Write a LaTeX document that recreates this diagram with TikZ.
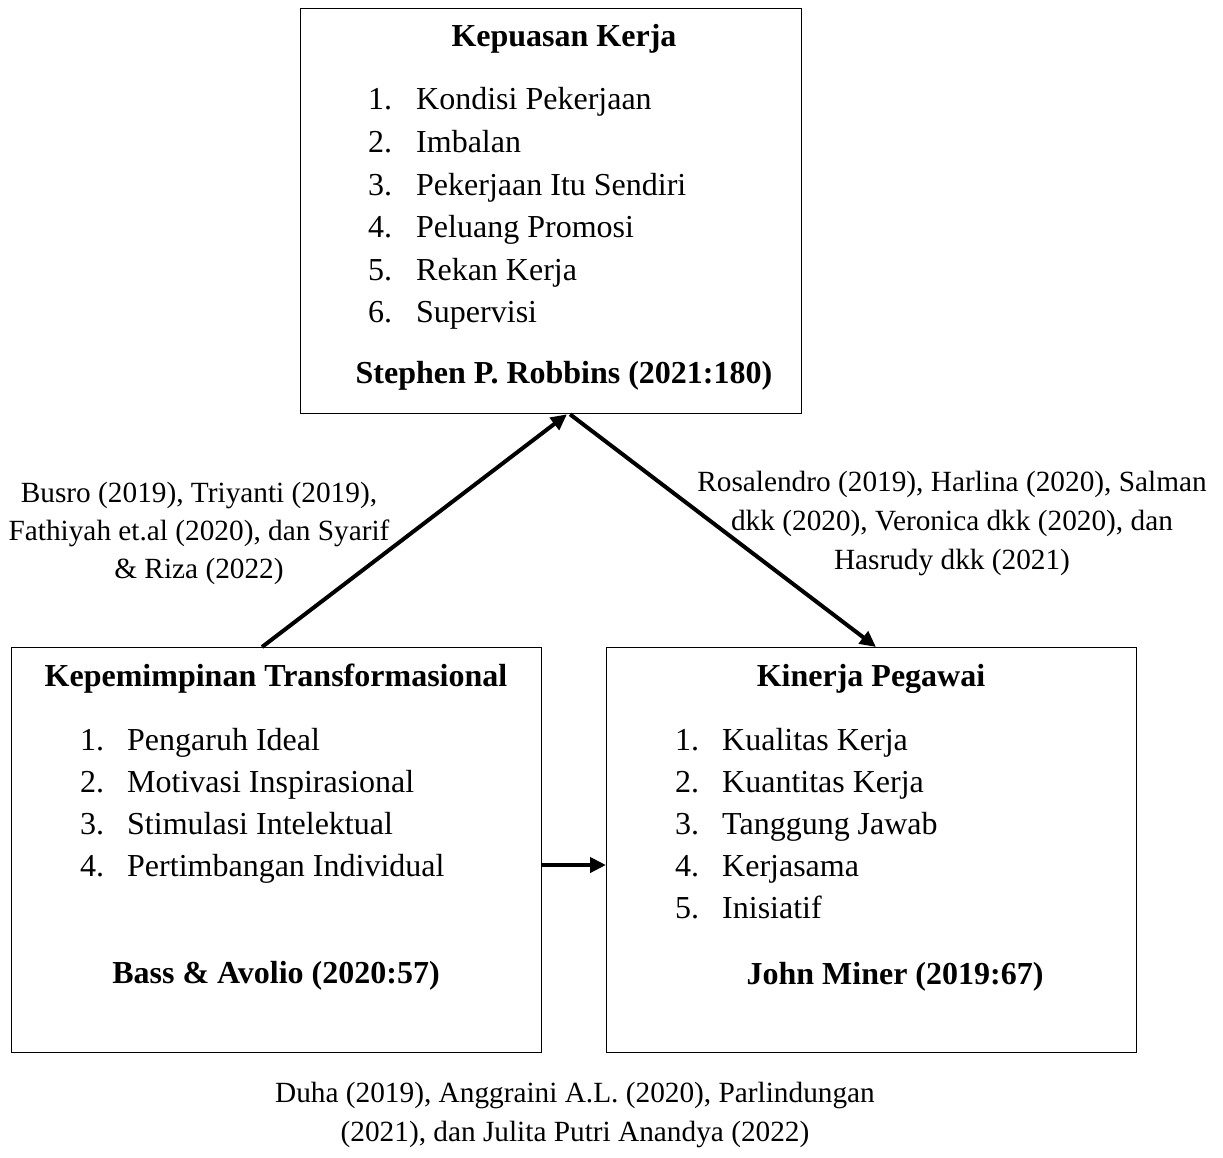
\documentclass[tikz,border=0pt]{standalone}
\usepackage{fontspec}
\setmainfont{Liberation Serif}
\usetikzlibrary{arrows.meta}
\begin{document}
\begin{tikzpicture}[x=1pt,y=-1pt,
  box/.style={draw=black,line width=1.3pt,inner sep=0pt,anchor=north west},
  big/.style={font=\fontsize{32}{42.5}\selectfont,inner sep=0pt},
  ttl/.style={big,font=\fontsize{32}{42.5}\selectfont\bfseries,anchor=base},
  itm/.style={big,anchor=base west},
  lbl/.style={font=\fontsize{29.3}{39}\selectfont,inner sep=0pt,anchor=base},
  arr/.style={line width=4pt,-{Triangle[length=16pt,width=15pt]}}]
\useasboundingbox (0,0) rectangle (1223,1158);
% boxes
\node[box,minimum width=501pt,minimum height=405pt] (kk) at (300,8) {};
\node[box,minimum width=530pt,minimum height=405pt] (kt) at (11,647) {};
\node[box,minimum width=530pt,minimum height=405pt] (kp) at (606,647) {};
% top box
\node[ttl] (kkt) at (564,47) {Kepuasan Kerja};
\foreach \n/\t [count=\i from 0] in {1/Kondisi Pekerjaan,2/Imbalan,3/Pekerjaan Itu Sendiri,4/Peluang Promosi,5/Rekan Kerja,6/Supervisi}{
  \node[itm] (kkn\n) at (368,110+42.6*\i) {\n.};
  \node[itm] (kki\n) at (416,110+42.6*\i) {\t};
}
\node[ttl] (kks) at (564,383) {Stephen P. Robbins (2021:180)};
% left box
\node[ttl] (ktt) at (276,686) {Kepemimpinan Transformasional};
\foreach \n/\t [count=\i from 0] in {1/Pengaruh Ideal,2/Motivasi Inspirasional,3/Stimulasi Intelektual,4/Pertimbangan Individual}{
  \node[itm] (ktn\n) at (80,750+42*\i) {\n.};
  \node[itm] (kti\n) at (127,750+42*\i) {\t};
}
\node[ttl] (kts) at (276,983) {Bass \& Avolio (2020:57)};
% right box
\node[ttl] (kpt) at (871,686) {Kinerja Pegawai};
\foreach \n/\t [count=\i from 0] in {1/Kualitas Kerja,2/Kuantitas Kerja,3/Tanggung Jawab,4/Kerjasama,5/Inisiatif}{
  \node[itm] (kpn\n) at (675,750+42*\i) {\n.};
  \node[itm] (kpi\n) at (722,750+42*\i) {\t};
}
\node[ttl] (kps) at (895,984) {John Miner (2019:67)};
% labels
\node[lbl] (la1) at (199,502) {Busro (2019), Triyanti (2019),};
\node[lbl] (la2) at (199,540) {Fathiyah et.al (2020), dan Syarif};
\node[lbl] (la3) at (199,578) {\& Riza (2022)};
\node[lbl] (lb1) at (952,491) {Rosalendro (2019), Harlina (2020), Salman};
\node[lbl] (lb2) at (952,530) {dkk (2020), Veronica dkk (2020), dan};
\node[lbl] (lb3) at (952,569) {Hasrudy dkk (2021)};
\node[lbl] (lc1) at (575,1102) {Duha (2019), Anggraini A.L. (2020), Parlindungan};
\node[lbl] (lc2) at (575,1141) {(2021), dan Julita Putri Anandya (2022)};
% connectors
\coordinate (a1s) at ([xshift=251pt]kt.north west);
\coordinate (a1e) at ([xshift=267pt]kk.south west);
\coordinate (a2s) at ([xshift=270pt]kk.south west);
\coordinate (a2e) at ([xshift=270pt]kp.north west);
\coordinate (a3s) at ([yshift=-218pt]kt.north east);
\coordinate (a3e) at ([yshift=-218pt]kp.north west);
\draw[arr] (a1s) -- (a1e);
\draw[arr] (a2s) -- (a2e);
\draw[arr] (a3s) -- (a3e);
\end{tikzpicture}
\end{document}
